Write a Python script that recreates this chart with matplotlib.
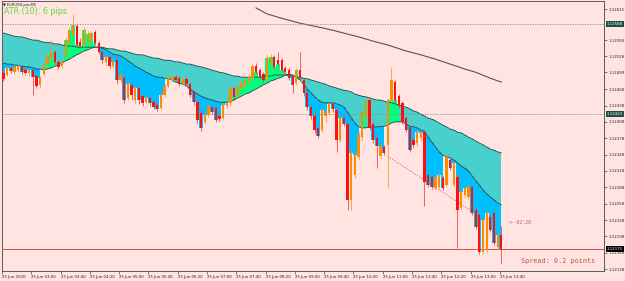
import numpy as np
import matplotlib.pyplot as plt
from matplotlib.transforms import blended_transform_factory

# EURUSD M5, prices in points (0.00001) above BASE
BASE = 1.12

open_pts = [498, 494, 507, 499, 503, 510, 503, 498, 503, 492,
            476, 496, 514, 525, 536, 518, 510, 527, 554, 569,
            584, 554, 549, 554, 558, 573, 553, 536, 518, 527,
            510, 521, 485, 488, 452, 476, 448, 470, 455, 444,
            452, 444, 439, 433, 457, 474, 485, 490, 488, 479,
            487, 477, 463, 444, 424, 408, 421, 435, 433, 419,
            415, 437, 443, 470, 455, 470, 476, 481, 488, 510,
            503, 496, 488, 518, 527, 521, 521, 507, 503, 490,
            479, 503, 485, 461, 435, 419, 397, 393, 419, 424,
            441, 430, 375, 415, 404, 265, 311, 344, 380, 415,
            448, 404, 378, 345, 362, 366, 448, 481, 455, 443,
            415, 399, 375, 369, 378, 389, 311, 307, 287, 289,
            305, 292, 338, 292, 307, 250, 274, 270, 289, 246,
            237, 169, 173, 234, 241, 179, 201]
close_pts = [487, 507, 501, 509, 510, 499, 498, 503, 490, 474,
             488, 514, 529, 536, 518, 509, 518, 558, 576, 586,
             549, 547, 576, 569, 571, 553, 536, 521, 527, 510,
             518, 485, 494, 448, 477, 457, 470, 448, 443, 452,
             443, 435, 432, 457, 474, 488, 490, 485, 477, 487,
             477, 457, 444, 411, 397, 421, 437, 426, 411, 413,
             439, 443, 470, 454, 474, 479, 485, 490, 510, 499,
             490, 485, 525, 527, 509, 514, 503, 499, 488, 476,
             503, 488, 461, 435, 419, 393, 382, 430, 424, 441,
             432, 375, 415, 404, 265, 351, 347, 384, 426, 448,
             397, 375, 364, 364, 351, 448, 485, 448, 437, 408,
             393, 356, 366, 389, 388, 298, 292, 289, 305, 311,
             287, 344, 323, 333, 246, 279, 287, 289, 241, 215,
             169, 228, 241, 210, 186, 201, 175]
high_pts = [501, 510, 510, 512, 514, 512, 507, 507, 505, 496,
            492, 518, 532, 558, 540, 521, 525, 564, 582, 606,
            587, 562, 582, 575, 575, 576, 556, 540, 531, 531,
            525, 531, 499, 492, 481, 479, 474, 474, 459, 455,
            455, 448, 443, 461, 477, 492, 498, 494, 492, 490,
            490, 481, 466, 448, 428, 424, 441, 439, 437, 422,
            443, 446, 474, 474, 477, 483, 488, 496, 514, 516,
            507, 499, 531, 532, 531, 536, 525, 510, 507, 494,
            507, 536, 488, 465, 439, 426, 402, 433, 430, 444,
            444, 433, 419, 419, 408, 356, 351, 389, 433, 452,
            454, 408, 382, 367, 366, 452, 507, 485, 459, 446,
            419, 402, 378, 393, 391, 393, 314, 311, 309, 314,
            309, 347, 342, 336, 311, 283, 290, 292, 292, 250,
            241, 232, 245, 237, 245, 204, 217]
low_pts = [483, 492, 498, 496, 499, 496, 494, 492, 457, 470,
           470, 492, 510, 521, 514, 505, 507, 525, 551, 565,
           545, 543, 545, 551, 554, 549, 532, 516, 512, 507,
           507, 477, 481, 443, 448, 448, 443, 441, 437, 441,
           437, 432, 428, 430, 454, 470, 481, 481, 474, 476,
           474, 454, 439, 406, 391, 404, 417, 422, 408, 409,
           411, 433, 439, 450, 452, 466, 472, 477, 485, 496,
           487, 481, 485, 510, 505, 510, 499, 496, 485, 461,
           476, 485, 455, 430, 413, 388, 378, 389, 408, 421,
           426, 353, 371, 400, 246, 246, 305, 338, 375, 411,
           393, 369, 323, 342, 347, 289, 444, 444, 433, 404,
           389, 353, 360, 364, 373, 254, 289, 285, 283, 285,
           283, 289, 320, 289, 177, 246, 270, 267, 237, 212,
           166, 166, 169, 206, 182, 175, 147]

# band indicator: slow line (top of teal cloud) and fast line
slow_pts = [571, 569, 567, 565, 564, 564, 562, 560, 558, 558,
            556, 554, 554, 553, 551, 551, 549, 547, 547, 547,
            545, 545, 545, 545, 545, 545, 545, 545, 543, 542,
            542, 540, 538, 538, 536, 534, 532, 531, 531, 529,
            527, 525, 525, 523, 521, 521, 520, 518, 518, 516,
            514, 514, 512, 510, 509, 507, 505, 503, 501, 499,
            498, 496, 494, 492, 492, 490, 490, 490, 490, 490,
            490, 492, 492, 492, 494, 494, 494, 494, 492, 492,
            490, 490, 488, 487, 485, 483, 481, 479, 477, 474,
            472, 470, 468, 466, 465, 463, 459, 457, 455, 454,
            452, 450, 448, 448, 446, 444, 443, 441, 439, 437,
            435, 432, 428, 426, 422, 419, 415, 413, 410, 406,
            402, 399, 395, 393, 389, 388, 384, 380, 377, 373,
            369, 366, 362, 358, 356, 353, 351]
fast_pts = [516, 514, 514, 512, 512, 510, 509, 509, 507, 505,
            505, 503, 505, 507, 510, 512, 516, 520, 523, 527,
            531, 534, 538, 540, 543, 545, 545, 543, 540, 536,
            532, 531, 529, 525, 520, 516, 510, 507, 503, 499,
            496, 492, 490, 490, 488, 487, 485, 481, 479, 477,
            474, 468, 463, 459, 455, 452, 450, 448, 446, 444,
            444, 444, 446, 448, 452, 455, 459, 461, 465, 468,
            472, 476, 479, 483, 485, 488, 490, 494, 496, 494,
            490, 485, 477, 468, 461, 454, 448, 444, 443, 443,
            443, 441, 439, 435, 426, 415, 406, 399, 397, 397,
            399, 399, 399, 399, 400, 402, 406, 408, 408, 408,
            404, 400, 399, 397, 393, 391, 380, 371, 362, 353,
            347, 344, 342, 338, 333, 327, 323, 318, 309, 300,
            292, 283, 276, 270, 265, 259, 256]

# long moving average (dark grey line)
ma_bars = [69, 72, 76, 81, 86, 90, 94, 97, 101, 105, 110, 114, 118, 122, 126, 129, 133, 136]
ma_pts = [617, 606, 598, 589, 582, 576, 569, 564, 556, 549, 538, 531, 523, 514, 505, 499, 488, 481]

time_labels = ['25 Jun 2020', '25 Jun 03:00', '25 Jun 03:40', '25 Jun 04:20', '25 Jun 05:00',
               '25 Jun 05:40', '25 Jun 06:20', '25 Jun 07:00', '25 Jun 07:40', '25 Jun 08:20',
               '25 Jun 09:00', '25 Jun 09:40', '25 Jun 10:20', '25 Jun 11:00', '25 Jun 11:40',
               '25 Jun 12:20', '25 Jun 13:00', '25 Jun 13:40']
price_ticks = [1.12615, 1.12558, 1.12528, 1.12499, 1.12468, 1.12438, 1.12408, 1.12378,
               1.12348, 1.12318, 1.12288, 1.12258, 1.12228, 1.12198, 1.12168, 1.12138]
dotted_levels = [1.12588, 1.12423]
bid_price = 1.12175

bg = '#FFE4E1'
o = BASE + np.array(open_pts) / 1e5
c = BASE + np.array(close_pts) / 1e5
h = BASE + np.array(high_pts) / 1e5
l = BASE + np.array(low_pts) / 1e5
slow = BASE + np.array(slow_pts) / 1e5
fast = BASE + np.array(fast_pts) / 1e5
x = np.arange(len(o))

fig = plt.figure(figsize=(6.25, 2.81), dpi=100, facecolor=bg)
ax = fig.add_axes([2 / 625, 10 / 281, 602 / 625, 270 / 281])
ax.set_facecolor(bg)
ax.set_xlim(-0.14, 164.05)
ax.set_ylim(1.121345, 1.126297)

# cloud
ax.fill_between(x, slow, fast, step='mid', color='#48D1CC', lw=0, zorder=1)
ax.fill_between(x, fast, c, where=c < fast, step='mid', color='#00BFFF', lw=0, zorder=2)
ax.fill_between(x, fast, c, where=c > fast, step='mid', color='#00FF7F', lw=0, zorder=2)
ax.plot(x, slow, color='#234848', lw=0.6, zorder=3)
ax.plot(x, fast, color='#234848', lw=0.6, zorder=3)
ax.plot(ma_bars, BASE + np.array(ma_pts) / 1e5, color='#555555', lw=0.8, zorder=3)

for lv in dotted_levels:
    ax.axhline(lv, color='#8a8a8a', lw=0.6, ls=(0, (1.5, 1.5)), zorder=3.5)
ax.axhline(bid_price, color='#E04848', lw=0.7, zorder=3.5)

# projection dotted line
ax.plot([105, 130], [1.12345, 1.12235], color='#E06060', lw=0.6, ls=(0, (1.5, 1.5)), zorder=3.5)

# candles
bull = c >= o
body_col = np.where(bull, '#FF8C00', '#FF1010')
wick_col = np.where(bull, '#F59A3A', '#F04848')
ax.vlines(x, l, h, colors=wick_col, lw=0.6, zorder=4)
bottom = np.minimum(o, c)
height = np.maximum(np.abs(c - o), 0.000012)
ax.bar(x, height, bottom=bottom, width=0.62, color=body_col, lw=0, zorder=5)

# axes style
for s in ax.spines.values():
    s.set_color('#444444')
    s.set_linewidth(0.6)
ax.yaxis.tick_right()
ax.set_yticks(price_ticks)
ax.set_yticklabels(['%.5f' % p for p in price_ticks])
ax.tick_params(axis='y', labelsize=2.8, length=2, width=0.4, pad=1, colors='#222222')
ax.set_xticks([8 * k - 0.4 for k in range(len(time_labels))])
ax.set_xticklabels(time_labels)
for lbl in ax.get_xticklabels():
    lbl.set_ha('left')
ax.tick_params(axis='x', labelsize=2.8, length=2, width=0.4, pad=0.8, colors='#222222')

trans = blended_transform_factory(ax.transAxes, ax.transData)
for val, col in [(1.12588, '#1E4D47'), (1.12423, '#1E4D47'), (bid_price, '#000000')]:
    ax.text(1.005, val, '%.5f' % val, transform=trans, fontsize=2.8, color='white',
            va='center', ha='left', clip_on=False, zorder=10,
            bbox=dict(boxstyle='square,pad=0.25', fc=col, ec='none'))

# labels
ax.text(0.002, 0.987, '\u25bc EURUSD.pro,M5', transform=ax.transAxes, fontsize=2.6,
        color='#222222', va='center', ha='left')
ax.text(0.003, 0.961, 'ATR (10): 6 pips', transform=ax.transAxes, fontsize=5.8,
        color='#62DD30', va='center', ha='left')
ax.text(0.985, 0.037, 'Spread: 0.2 points', transform=ax.transAxes, fontsize=4.9,
        family='DejaVu Sans Mono', color='#C0504A', va='center', ha='right')
ax.text(138.1, 1.12224, '<--02:20', fontsize=3.4, family='DejaVu Sans Mono',
        color='#B86060', va='center', ha='left')

fig.savefig('out.png', dpi=100, facecolor=bg)
